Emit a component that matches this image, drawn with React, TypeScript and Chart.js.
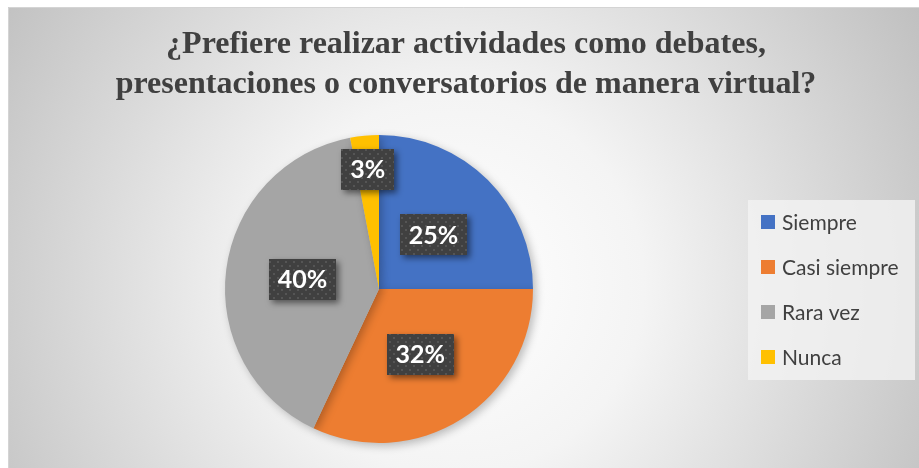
import React, { useEffect, useRef } from "react";
import { Chart, registerables } from "chart.js";

Chart.register(...registerables);

const titleLines = [
  "¿Prefiere realizar actividades como debates,",
  "presentaciones o conversatorios de manera virtual?",
];
const categories = ["Siempre", "Casi siempre", "Rara vez", "Nunca"];
const values = [25, 32, 40, 3];
const colors = ["#4472C4", "#ED7D31", "#A5A5A5", "#FFC000"];

function makePattern(ctx: CanvasRenderingContext2D) {
  const c = document.createElement("canvas");
  c.width = 8;
  c.height = 8;
  const p = c.getContext("2d")!;
  p.fillStyle = "#404040";
  p.fillRect(0, 0, 8, 8);
  p.fillStyle = "#555555";
  p.fillRect(1, 1, 2, 2);
  p.fillRect(5, 5, 2, 2);
  return ctx.createPattern(c, "repeat");
}

const decorPlugin = {
  id: "decor",
  beforeDraw(chart: any) {
    const ctx = chart.ctx as CanvasRenderingContext2D;
    const W = chart.width;
    const H = chart.height;
    ctx.save();
    ctx.fillStyle = "#ffffff";
    ctx.fillRect(0, 0, W, H);
    const g = ctx.createRadialGradient(455, 285, 0, 455, 285, 540);
    g.addColorStop(0, "#ffffff");
    g.addColorStop(0.35, "#f4f4f4");
    g.addColorStop(1, "#c0c0c0");
    ctx.fillStyle = g;
    ctx.fillRect(8, 7, W - 8, H - 7);
    ctx.strokeStyle = "#d4d4d4";
    ctx.lineWidth = 1;
    ctx.beginPath();
    ctx.moveTo(8.5, H);
    ctx.lineTo(8.5, 7.5);
    ctx.lineTo(W, 7.5);
    ctx.stroke();

    // title
    ctx.fillStyle = "#404040";
    ctx.font = "bold 32px 'Liberation Serif', 'Times New Roman', serif";
    ctx.textAlign = "center";
    ctx.textBaseline = "middle";
    ctx.fillText(titleLines[0], 466, 45);
    ctx.fillText(titleLines[1], 466, 85);

    // legend box
    ctx.fillStyle = "rgba(242,242,242,0.8)";
    ctx.fillRect(748, 200, 167, 180);
    const labels = chart.data.labels;
    const bg = chart.data.datasets[0].backgroundColor;
    ctx.font = "21px Lato, 'Open Sans', sans-serif";
    ctx.textAlign = "left";
    labels.forEach((l: string, i: number) => {
      const cy = 222 + i * 45;
      ctx.fillStyle = bg[i];
      ctx.fillRect(761, cy - 7, 14, 14);
      ctx.fillStyle = "#404040";
      ctx.fillText(l, 782, cy + 1);
    });
    ctx.restore();
  },
  beforeDatasetDraw(chart: any) {
    const ctx = chart.ctx;
    ctx.save();
    ctx.shadowColor = "rgba(0,0,0,0.25)";
    ctx.shadowBlur = 8;
    ctx.shadowOffsetX = 3;
    ctx.shadowOffsetY = 3;
  },
  afterDatasetDraw(chart: any) {
    chart.ctx.restore();
  },
  afterDraw(chart: any) {
    const ctx = chart.ctx as CanvasRenderingContext2D;
    const meta = chart.getDatasetMeta(0);
    const data = chart.data.datasets[0].data as number[];
    const total = data.reduce((a, b) => a + b, 0);
    const pattern = makePattern(ctx);
    ctx.save();
    ctx.font = "bold 25px Lato, 'Open Sans', sans-serif";
    ctx.textAlign = "center";
    ctx.textBaseline = "middle";
    meta.data.forEach((arc: any, i: number) => {
      const { x, y, startAngle, endAngle, outerRadius } = arc.getProps(
        ["x", "y", "startAngle", "endAngle", "outerRadius"],
        true
      );
      const mid = (startAngle + endAngle) / 2;
      const frac = data[i] / total < 0.05 ? 0.78 : 0.5;
      const cx = x + Math.cos(mid) * outerRadius * frac;
      const cy = y + Math.sin(mid) * outerRadius * frac;
      const txt = Math.round((data[i] / total) * 100) + "%";
      const tw = ctx.measureText(txt).width;
      const bw = tw + 18;
      const bh = 41;
      ctx.save();
      ctx.shadowColor = "rgba(0,0,0,0.5)";
      ctx.shadowBlur = 6;
      ctx.shadowOffsetX = 3;
      ctx.shadowOffsetY = 3;
      ctx.fillStyle = pattern || "#404040";
      ctx.fillRect(Math.round(cx - bw / 2), Math.round(cy - bh / 2), Math.round(bw), bh);
      ctx.restore();
      ctx.fillStyle = "#ffffff";
      ctx.fillText(txt, cx, cy + 1);
    });
    ctx.restore();
  },
};

export default function App() {
  const ref = useRef<HTMLCanvasElement>(null);
  useEffect(() => {
    document.body.style.margin = "0";
    const chart = new Chart(ref.current!, {
      type: "pie",
      data: {
        labels: categories,
        datasets: [
          {
            data: values,
            backgroundColor: colors,
            borderWidth: 0,
          },
        ],
      },
      options: {
        animation: false,
        responsive: false,
        layout: { padding: { left: 225, right: 386, top: 135, bottom: 25 } },
        plugins: {
          legend: { display: false },
          tooltip: { enabled: false },
          title: { display: false },
        },
      },
      plugins: [decorPlugin],
    });
    return () => chart.destroy();
  }, []);
  return (
    <div style={{ width: 919, height: 468 }}>
      <canvas ref={ref} width={919} height={468} style={{ display: "block" }} />
    </div>
  );
}
